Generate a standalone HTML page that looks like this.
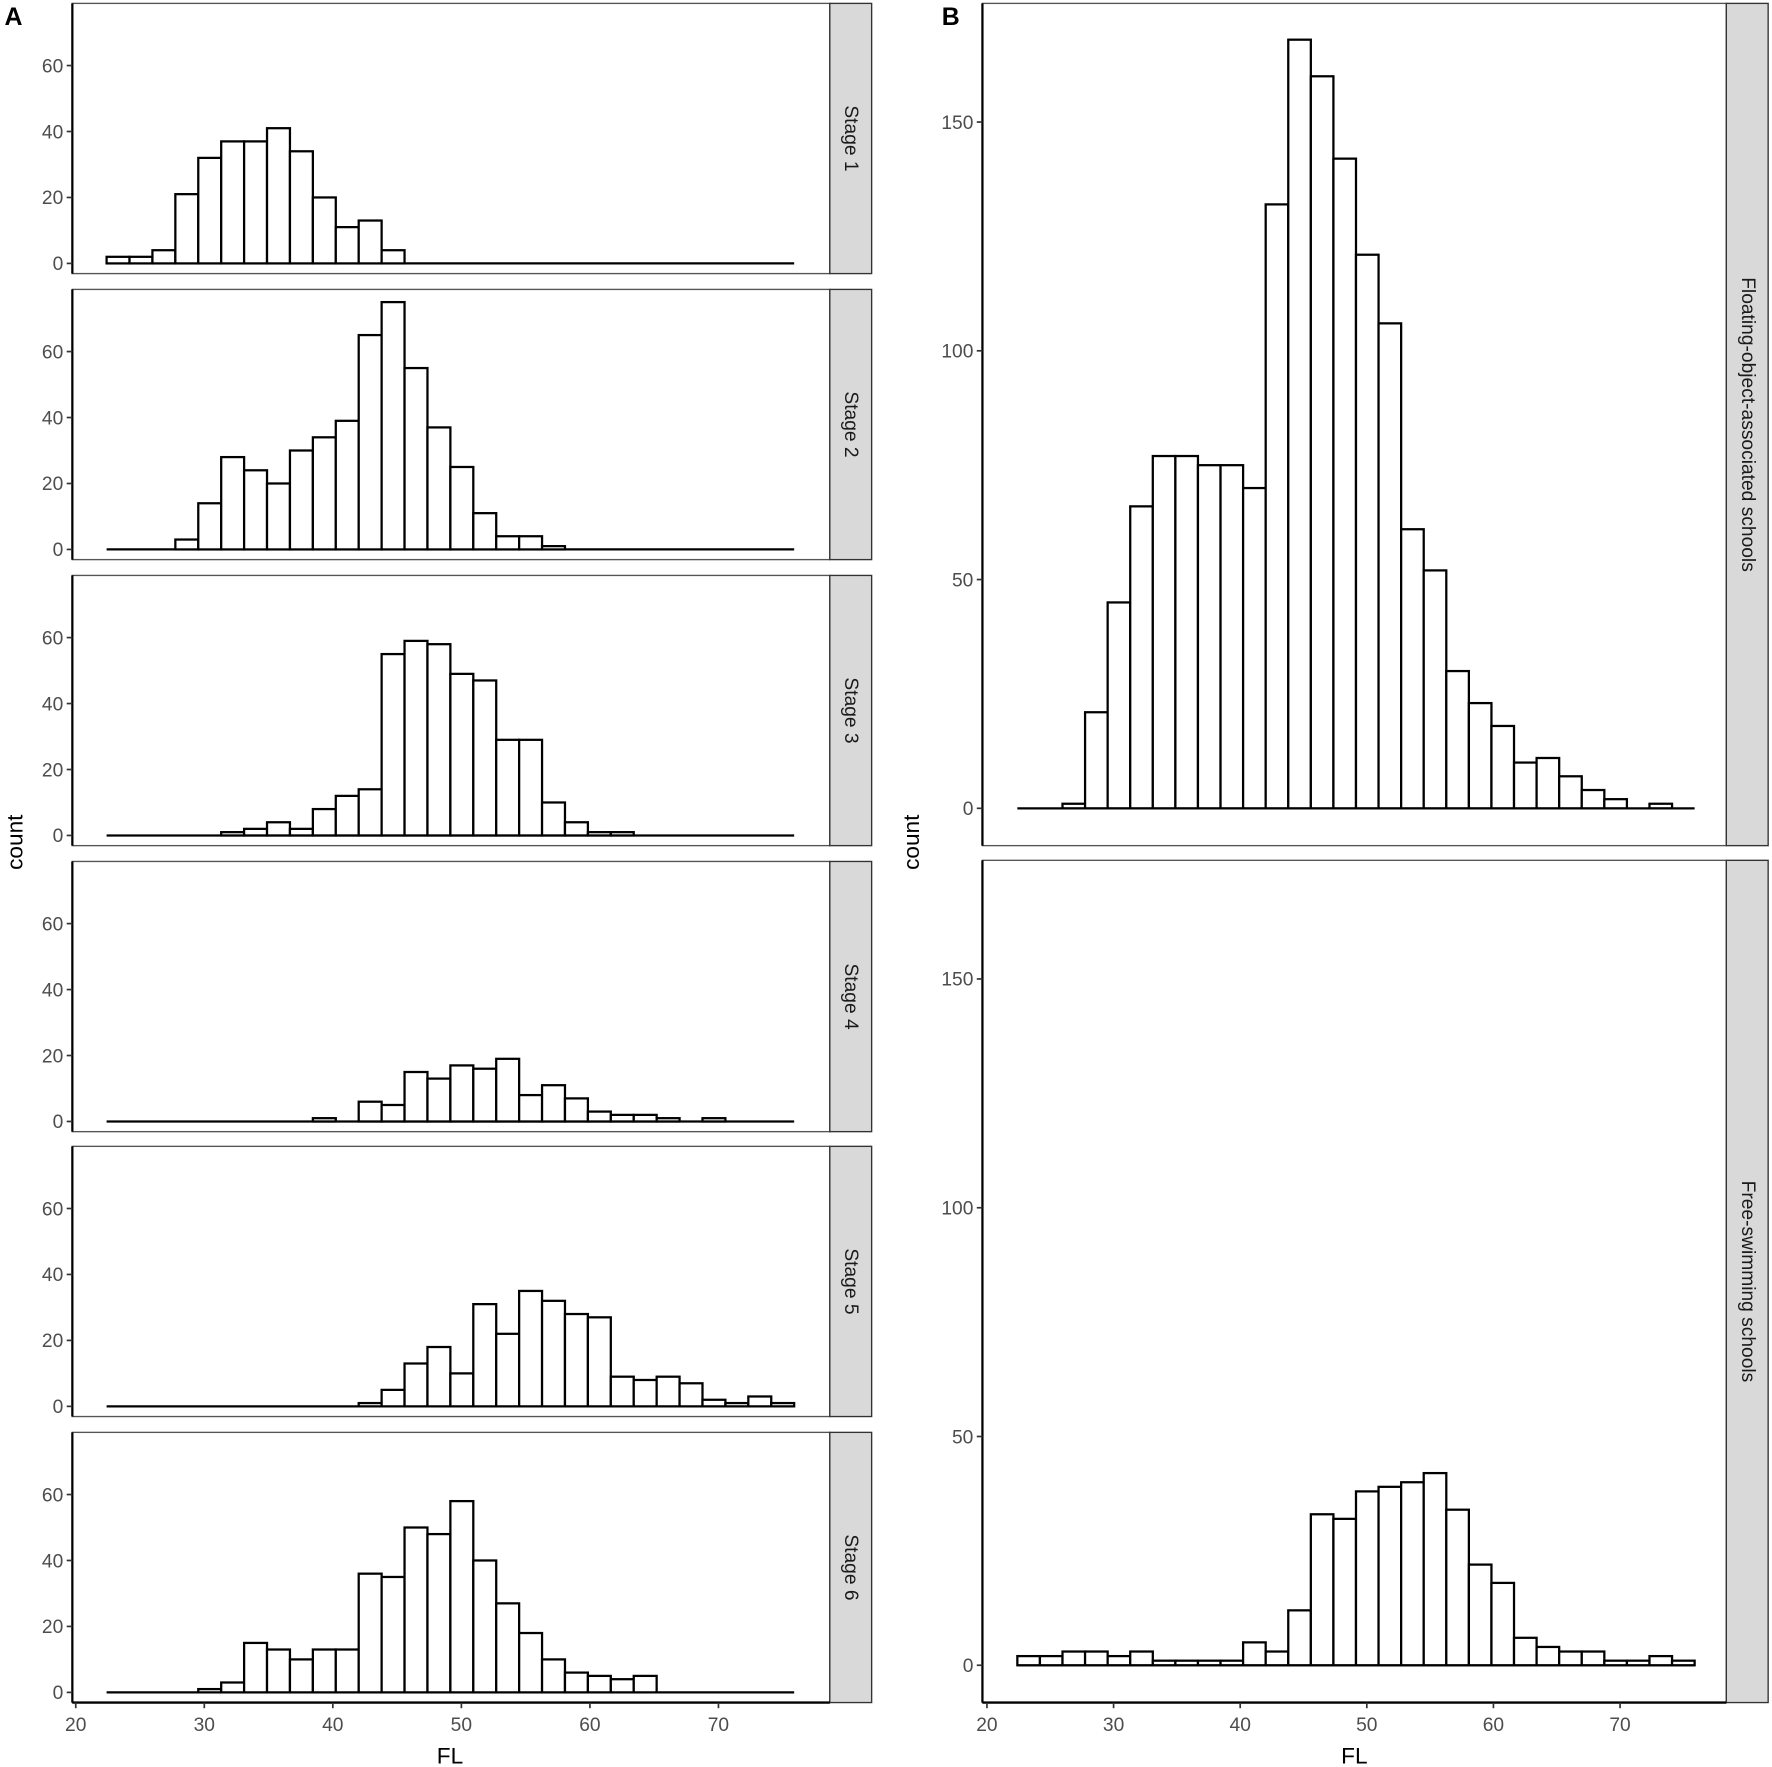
<!DOCTYPE html>
<html><head><meta charset="utf-8"><style>
html,body{margin:0;padding:0;background:#fff;}
svg{display:block;font-family:"Liberation Sans",sans-serif;}
</style></head><body>
<svg id="chart" width="1772" height="1767" viewBox="0 0 1567.4 1563" preserveAspectRatio="none" xmlns="http://www.w3.org/2000/svg"></svg>
<script>
const stageNames = ["Stage 1","Stage 2","Stage 3","Stage 4","Stage 5","Stage 6"];
const stage1 = [2,2,4,21,32,37,37,41,34,20,11,13,4,0,0,0,0,0,0,0,0,0,0,0,0,0,0,0,0,0];
const stage2 = [0,0,0,3,14,28,24,20,30,34,39,65,75,55,37,25,11,4,4,1,0,0,0,0,0,0,0,0,0,0];
const stage3 = [0,0,0,0,0,1,2,4,2,8,12,14,55,59,58,49,47,29,29,10,4,1,1,0,0,0,0,0,0,0];
const stage4 = [0,0,0,0,0,0,0,0,0,1,0,6,5,15,13,17,16,19,8,11,7,3,2,2,1,0,1,0,0,0];
const stage5 = [0,0,0,0,0,0,0,0,0,0,0,1,5,13,18,10,31,22,35,32,28,27,9,8,9,7,2,1,3,1];
const stage6 = [0,0,0,0,1,3,15,13,10,13,13,36,35,50,48,58,40,27,18,10,6,5,4,5,0,0,0,0,0,0];
const schoolNames = ["Floating-object-associated schools","Free-swimming schools"];
const floating = [0,0,1,21,45,66,77,77,75,75,70,132,168,160,142,121,106,61,52,30,23,18,10,11,7,4,2,0,1,0];
const freeSwim = [2,2,3,3,2,3,1,1,1,1,5,3,12,33,32,38,39,40,42,34,22,18,6,4,3,3,1,1,2,1];
const binStart = 22.4;
const binWidth = 1.783;
const xTicks = [20,30,40,50,60,70];
const yTicksA = [0,20,40,60];
const yTicksB = [0,50,100,150];

const NS="http://www.w3.org/2000/svg";
const svg=document.getElementById('chart');
function mk(tag,attrs,parent){const e=document.createElementNS(NS,tag);for(const k in attrs)e.setAttribute(k,attrs[k]);(parent||svg).appendChild(e);return e;}

function drawPanel(cfg){
  const g=mk('g',{});
  
  
  const xs=v=>cfg.x0+(v-20)*cfg.xk;
  const ys=c=>cfg.zero-c*cfg.yk;
  const frame=mk('rect',{x:cfg.left,y:cfg.top,width:cfg.right-cfg.left,height:cfg.h,fill:'#fff',stroke:'#555','stroke-width':1.2},g);
  
  
  const base=mk('line',{x1:xs(binStart),x2:xs(binStart+binWidth*cfg.data.length),y1:ys(0),y2:ys(0),stroke:'#000','stroke-width':2},g);
  
  
  cfg.data.forEach((c,i)=>{
    if(c<=0)return;
    const x1=xs(binStart+i*binWidth),x2=xs(binStart+(i+1)*binWidth);
    const r=mk('rect',{x:x1,y:ys(c),width:x2-x1,height:ys(0)-ys(c),fill:'#fff',stroke:'#000','stroke-width':2},g);
    
    
  });
  const ax=mk('line',{x1:cfg.left,x2:cfg.left,y1:cfg.top,y2:cfg.top+cfg.h,stroke:'#000','stroke-width':2},g);
  
  
  cfg.yt.forEach(t=>{
    mk('line',{x1:cfg.left-5,x2:cfg.left,y1:ys(t),y2:ys(t),stroke:'#333','stroke-width':1.5},g);
    const tx=mk('text',{x:cfg.left-8,y:ys(t)+6,'text-anchor':'end','font-size':17,fill:'#4d4d4d'},g);
    tx.textContent=t;
    
    
  });
  const st=mk('rect',{x:cfg.right,y:cfg.top,width:cfg.sw,height:cfg.h,fill:'#d9d9d9',stroke:'#333','stroke-width':1.2},g);
  
  
  const cx=cfg.right+cfg.sw/2, cy=cfg.top+cfg.h/2;
  const lab=mk('text',{x:cx,y:cy,'text-anchor':'middle','dominant-baseline':'central','font-size':17,fill:'#1a1a1a',transform:`rotate(90 ${cx} ${cy})`},g);
  lab.textContent=cfg.label;
  
  
  if(cfg.xaxis){
    const xa=mk('line',{x1:cfg.left,x2:cfg.right,y1:cfg.top+cfg.h,y2:cfg.top+cfg.h,stroke:'#000','stroke-width':2},g);
    
    
    xTicks.forEach(t=>{
      mk('line',{x1:xs(t),x2:xs(t),y1:cfg.top+cfg.h,y2:cfg.top+cfg.h+5,stroke:'#333','stroke-width':1.5},g);
      const tx=mk('text',{x:xs(t),y:cfg.top+cfg.h+25,'text-anchor':'middle','font-size':17,fill:'#4d4d4d'},g);
      tx.textContent=t;
      
      
    });
  }
}

const stageData=[stage1,stage2,stage3,stage4,stage5,stage6];
const tops=[3,256,509,762,1014,1267];
stageData.forEach((d,i)=>{
  drawPanel({name:'panel-stage-'+(i+1),data:d,label:stageNames[i],left:64,right:734,sw:37,top:tops[i],h:239,
    x0:67,xk:11.37,zero:tops[i]+230,yk:2.917,yt:yTicksA,xaxis:i===5});
});
[[floating,3],[freeSwim,761]].forEach((p,i)=>{
  drawPanel({name:i===0?'panel-floating':'panel-free-swimming',data:p[0],label:schoolNames[i],left:869,right:1527,sw:37,top:p[1],h:745,
    x0:873,xk:11.2,zero:p[1]+712,yk:4.047,yt:yTicksB,xaxis:i===1});
});

function txt(s,attrs,name){const t=mk('text',attrs);t.textContent=s;}
txt('A',{x:4,y:22,'font-size':22,'font-weight':'bold',fill:'#000'},'panel-a-label');
txt('B',{x:833,y:22,'font-size':22,'font-weight':'bold',fill:'#000'},'panel-b-label');
txt('count',{x:20,y:745,'text-anchor':'middle','font-size':20,fill:'#000',transform:'rotate(-90 20 745)'},'y-axis-title-a');
txt('count',{x:813,y:745,'text-anchor':'middle','font-size':20,fill:'#000',transform:'rotate(-90 813 745)'},'y-axis-title-b');
txt('FL',{x:398,y:1560,'text-anchor':'middle','font-size':20,fill:'#000'},'x-axis-title-a');
txt('FL',{x:1198,y:1560,'text-anchor':'middle','font-size':20,fill:'#000'},'x-axis-title-b');
</script>
</body></html>
